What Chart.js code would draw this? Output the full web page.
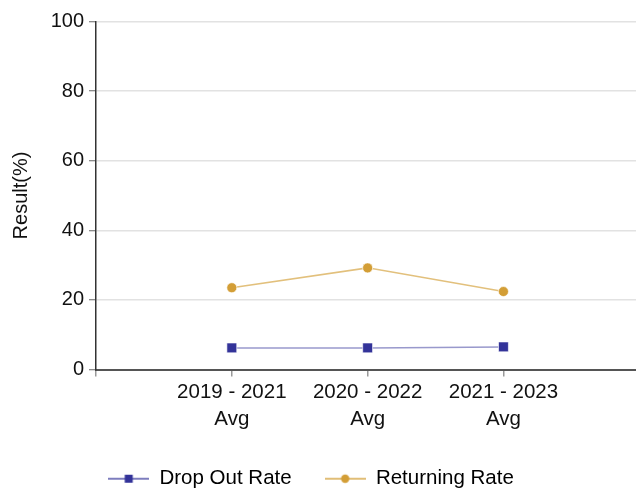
<!DOCTYPE html>
<html>
<head>
<meta charset="utf-8">
<script src="https://cdn.jsdelivr.net/npm/chart.js@4"></script>
<style>
  html, body { margin: 0; padding: 0; background: #fff; }
  #wrap { width: 636px; height: 493px; position: relative; }
</style>
</head>
<body>
<div id="wrap"><canvas id="chart"></canvas></div>
<script>
// categories sit at x = 1..3 on a 0..~4 axis
const categories = [["2019 - 2021", "Avg"], ["2020 - 2022", "Avg"], ["2021 - 2023", "Avg"]];
const dropOutRate = [6.2, 6.2, 6.5];
const returningRate = [23.5, 29.2, 22.4];
const yTicks = [0, 20, 40, 60, 80, 100];

const BLUE = "#333399";
const GOLD = "#d39e36";

// legend marker: short line with the point symbol in the middle
function legendIcon(color, lineColor, shape) {
  const c = document.createElement("canvas");
  c.width = 41; c.height = 12;
  const g = c.getContext("2d");
  g.strokeStyle = lineColor;
  g.lineWidth = 1.5;
  g.beginPath(); g.moveTo(0, 6); g.lineTo(41, 6); g.stroke();
  g.fillStyle = color;
  if (shape === "rect") {
    g.fillRect(16.5, 2, 8, 8);
  } else {
    g.beginPath(); g.arc(20.5, 6, 4.2, 0, Math.PI * 2); g.fill();
  }
  return c;
}

const toPoints = (arr) => arr.map((v, i) => ({ x: i + 1, y: v }));

// nudge the legend so it sits where the original one does
const legendShift = {
  id: "legendShift",
  afterLayout(chart) {
    const lg = chart.legend;
    lg.left -= 7; lg.right -= 7;
    lg.top += 6; lg.bottom += 6;
  },
};

new Chart(document.getElementById("chart"), {
  type: "line",
  data: {
    datasets: [
      {
        label: "Drop Out Rate",
        data: toPoints(dropOutRate),
        borderColor: "rgba(51,51,153,0.5)",
        borderWidth: 1.5,
        backgroundColor: BLUE,
        pointBackgroundColor: BLUE,
        pointBorderColor: "rgba(255,255,255,0.8)",
        pointBorderWidth: 0.8,
        pointStyle: "rect",
        pointRadius: 7,
        tension: 0,
        legendIcon: legendIcon(BLUE, "rgba(51,51,153,0.85)", "rect"),
      },
      {
        label: "Returning Rate",
        data: toPoints(returningRate),
        borderColor: "rgba(211,158,54,0.65)",
        borderWidth: 1.5,
        backgroundColor: GOLD,
        pointBackgroundColor: GOLD,
        pointBorderColor: "rgba(255,255,255,0.8)",
        pointBorderWidth: 0.8,
        pointStyle: "circle",
        pointRadius: 5,
        tension: 0,
        legendIcon: legendIcon(GOLD, "rgba(211,158,54,0.9)", "circle"),
      },
    ],
  },
  plugins: [legendShift],
  options: {
    responsive: true,
    maintainAspectRatio: false,
    animation: false,
    layout: { autoPadding: false, padding: { top: 21.5, right: 0, left: 0, bottom: 0 } },
    scales: {
      x: {
        type: "linear",
        min: 0,
        max: 3.976,
        afterBuildTicks: (axis) => {
          axis.ticks = [{ value: 0 }].concat(categories.map((c, i) => ({ value: i + 1 })));
        },
        ticks: {
          autoSkip: false,
          maxRotation: 0,
          color: "#111",
          font: { family: "Liberation Sans", size: 20.5, lineHeight: 1.3 },
          padding: 3,
          callback: (v) => categories[v - 1] || "",
        },
        grid: { drawOnChartArea: false, drawTicks: true, tickLength: 7, color: "#999", lineWidth: 1.5 },
        border: { color: "#555", width: 2 },
        afterFit: (axis) => {
          axis.height = 60;
          axis.paddingLeft = 0; axis.paddingRight = 0;
        },
      },
      y: {
        min: 0,
        max: 100,
        afterBuildTicks: (axis) => { axis.ticks = yTicks.map((v) => ({ value: v })); },
        ticks: {
          color: "#111",
          font: { family: "Liberation Sans", size: 20 },
          padding: 5,
        },
        grid: { color: "#e2e2e2", lineWidth: 1.5, tickLength: 7, tickColor: "#666", tickWidth: 1 },
        border: { color: "#333", width: 1.5 },
        title: {
          display: true,
          text: "Result(%)",
          color: "#111",
          font: { family: "Liberation Sans", size: 20 },
          padding: { top: 9, bottom: 0 },
        },
        afterFit: (axis) => { axis.width = 96; },
      },
    },
    plugins: {
      tooltip: { enabled: false },
      legend: {
        position: "bottom",
        labels: {
          usePointStyle: true,
          pointStyleWidth: 41,
          padding: 33,
          color: "#111",
          font: { family: "Liberation Sans", size: 20.5 },
          generateLabels: (chart) => chart.data.datasets.map((ds, i) => ({
            text: ds.label,
            pointStyle: ds.legendIcon,
            fillStyle: ds.backgroundColor,
            strokeStyle: ds.backgroundColor,
            lineWidth: 0,
            datasetIndex: i,
            hidden: false,
          })),
        },
      },
    },
  },
});
</script>
</body>
</html>
